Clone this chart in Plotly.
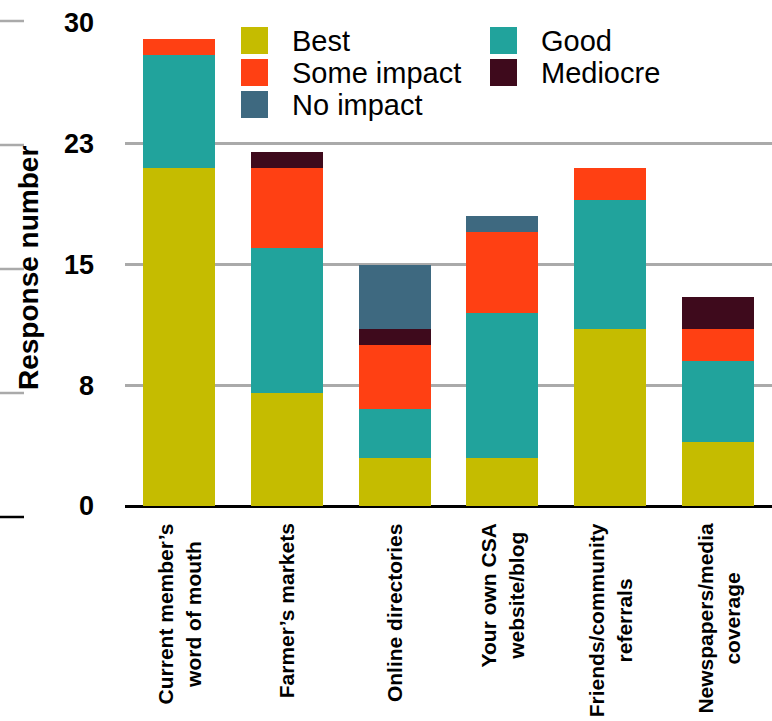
import plotly.graph_objects as go

categories = ["Current member’s<br>word of mouth", "Farmer’s markets", "Online directories",
              "Your own CSA<br>website/blog", "Friends/community<br>referrals", "Newspapers/media<br>coverage"]
series_names = ["Best", "Good", "Some impact", "Mediocre", "No impact"]
best = [21, 7, 3, 3, 11, 4]
good = [7, 9, 3, 9, 8, 5]
some_impact = [1, 5, 4, 5, 2, 2]
mediocre = [0, 1, 1, 0, 0, 2]
no_impact = [0, 0, 4, 1, 0, 0]
colors = ["#C5BC00", "#21A39C", "#FF4013", "#3E0A1C", "#3E6980"]
y_tickvals = [0, 7.5, 15, 22.5, 30]
y_ticktext = ["0", "8", "15", "23", "30"]

W, H = 772, 721
L, R, T, B = 125, 0, 23, 215
PW, PH = W - L - R, H - T - B

def px(x):
    return (x - L) / PW

def py(y):
    return (H - B - y) / PH

FONT = "Liberation Sans, Arial, Helvetica, sans-serif"

fig = go.Figure()
values = [best, good, some_impact, mediocre, no_impact]
for name, vals, col in zip(series_names, values, colors):
    fig.add_trace(go.Bar(x=list(range(len(categories))), y=vals, name=name,
                         marker=dict(color=col, line=dict(width=0)), showlegend=False))

fig.update_layout(
    barmode="stack", bargap=0.333,
    width=W, height=H,
    margin=dict(l=L, r=R, t=T, b=B, pad=0),
    plot_bgcolor="white", paper_bgcolor="white",
    font=dict(family=FONT, color="black"),
)
fig.update_xaxes(range=[-0.5, len(categories) - 0.5], showticklabels=False, showgrid=False,
                 zeroline=False, showline=False, ticks="")
fig.update_yaxes(range=[0, 30], tickvals=y_tickvals, ticktext=y_ticktext,
                 tickfont=dict(size=27, weight="bold", family=FONT),
                 showgrid=True, gridcolor="#AAAAAA", gridwidth=2.5,
                 zeroline=True, zerolinecolor="black", zerolinewidth=2.5,
                 ticks="", ticklabelstandoff=30, showline=False)

# x category labels (centered multi-line, rotated)
for i, c in enumerate(categories):
    fig.add_annotation(x=i, y=py(521), xref="x", yref="paper", text=c, textangle=-90,
                       showarrow=False, xanchor="center", yanchor="top", align="center",
                       font=dict(size=21, weight="bold", family=FONT, color="black"))

# y title
fig.add_annotation(x=px(28), y=py(268), xref="paper", yref="paper", text="Response number",
                   textangle=-90, showarrow=False, xanchor="center", yanchor="middle",
                   font=dict(size=28, weight="bold", family=FONT, color="black"))

# legend (manual, large swatches)
col_x = [241, 490]
row_y = [27, 59, 91]
for i, (name, col) in enumerate(zip(series_names, colors)):
    r, c = divmod(i, 2)
    x0, y0 = col_x[c], row_y[r]
    fig.add_shape(type="rect", xref="paper", yref="paper",
                  x0=px(x0), x1=px(x0 + 27), y0=py(y0 + 27), y1=py(y0),
                  fillcolor=col, line=dict(width=0))
    fig.add_annotation(x=px(x0 + 49), y=py(y0 + 13.5), xref="paper", yref="paper", text=name,
                       showarrow=False, xanchor="left", yanchor="middle",
                       font=dict(size=29, family=FONT, color="black"))

# stray left-edge dashes
for yy, colr in [(21, "#AAAAAA"), (145, "#AAAAAA"), (269, "#AAAAAA"), (393, "#AAAAAA"), (517, "black")]:
    fig.add_shape(type="line", xref="paper", yref="paper", x0=px(0), x1=px(24),
                  y0=py(yy), y1=py(yy), line=dict(color=colr, width=2.5))

fig.write_html("out.html")
